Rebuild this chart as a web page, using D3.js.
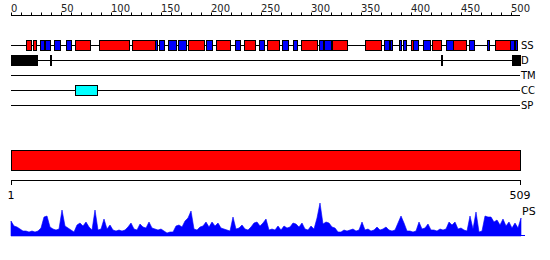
<!DOCTYPE html>
<html>
<head>
<meta charset="utf-8">
<script src="https://cdn.jsdelivr.net/npm/d3@7"></script>
<style>
  body { margin: 0; background: #fff; }
  svg { display: block; font-family: "DejaVu Sans", sans-serif; }
</style>
</head>
<body>
<div id="chart"></div>
<script>
// protein length and ruler
let seq_length = 509
let ruler_ticks = d3.range(0, 501, 10)
let ruler_labels = [0, 50, 100, 150, 200, 250, 300, 350, 400, 450, 500]

// feature tracks (residue ranges)
let track_names = ['SS', 'D', 'TM', 'CC', 'SP']
let helix = [[15, 20], [22, 25], [64, 79], [88, 118], [121, 144], [177, 193], [205, 219],
  [233, 244], [256, 268], [290, 306], [321, 336], [354, 370], [400, 402], [421, 430],
  [442, 455], [484, 499]]
let strand = [[29, 33], [34, 39], [43, 49], [55, 60], [144, 146], [148, 153], [157, 165],
  [167, 175], [195, 201], [224, 229], [248, 253], [271, 277], [282, 286], [308, 312],
  [313, 320], [373, 378], [379, 381], [388, 390], [392, 395], [402, 407], [412, 419],
  [435, 442], [458, 463], [476, 478], [499, 503], [504, 506]]
let disorder = [[0, 26], [39, 40], [430, 431], [501, 509]]
let transmembrane = []
let coiled_coil = [[64, 86]]
let signal_peptide = []

// PS profile, one score every 3 residues
let ps_step = 3
let ps_scores = [15, 10, 9, 7, 5, 5, 4, 5, 4, 5, 8, 19, 20, 9, 7, 6, 7, 26, 10, 8,
  6, 4, 11, 13, 10, 14, 9, 6, 26, 6, 7, 17, 7, 11, 6, 5, 6, 5, 6, 9,
  13, 7, 6, 12, 9, 8, 14, 8, 7, 6, 7, 5, 3, 4, 4, 10, 11, 9, 15, 18,
  25, 7, 6, 9, 10, 14, 9, 14, 10, 13, 8, 7, 6, 5, 19, 7, 8, 11, 7, 6,
  9, 13, 14, 10, 13, 17, 6, 7, 6, 10, 6, 10, 8, 9, 13, 12, 9, 13, 7, 6,
  10, 7, 18, 33, 12, 14, 13, 9, 8, 4, 4, 6, 5, 6, 7, 5, 6, 14, 6, 7,
  5, 6, 9, 6, 7, 9, 6, 5, 6, 13, 20, 13, 5, 5, 4, 5, 14, 7, 8, 12,
  6, 6, 5, 7, 6, 7, 14, 11, 14, 7, 8, 6, 5, 20, 7, 24, 4, 5, 20, 19,
  19, 14, 16, 11, 17, 10, 14, 8, 13, 8, 18]

let width = 550
let height = 260

let svg = d3.select('#chart')
  .append('svg')
  .attr('width', width)
  .attr('height', height)

let x = d3.scaleLinear()
  .domain([0, seq_length])
  .range([11, 520])

// top ruler
let ruler = svg.append('g').attr('transform', 'translate(0,15.5)')
ruler.append('line')
  .attr('x1', x(0)).attr('x2', x(seq_length))
  .attr('stroke', 'black')
ruler.selectAll('.tick')
  .data(ruler_ticks)
  .enter()
  .append('line')
  .attr('x1', d => Math.round(x(d)) + 0.5)
  .attr('x2', d => Math.round(x(d)) + 0.5)
  .attr('y1', -3)
  .attr('y2', 0)
  .attr('stroke', 'black')
ruler.selectAll('text')
  .data(ruler_labels)
  .enter()
  .append('text')
  .attr('x', d => x(d))
  .attr('y', -4)
  .style('font-size', '10px')
  .attr('fill', '#222')
  .text(d => d)

// tracks
let track_y = d3.scalePoint()
  .domain(track_names)
  .range([45, 105])

let tracks = svg.append('g').attr('shape-rendering', 'crispEdges')
tracks.selectAll('.track-line')
  .data(track_names)
  .enter()
  .append('line')
  .attr('x1', x(0))
  .attr('x2', d => d === 'SS' ? x(506) : x(seq_length))
  .attr('y1', d => track_y(d) + 0.5)
  .attr('y2', d => track_y(d) + 0.5)
  .attr('stroke', 'black')

svg.selectAll('.track-label')
  .data(track_names)
  .enter()
  .append('text')
  .attr('x', 521)
  .attr('y', d => track_y(d) + 4)
  .style('font-size', '10px')
  .text(d => d)

function draw_boxes(data, track, fill, half) {
  tracks.append('g')
    .selectAll('rect')
    .data(data)
    .enter()
    .append('rect')
    .attr('x', d => Math.round(x(d[0])) + 0.5)
    .attr('width', d => Math.max(1, Math.round(x(d[1]) - x(d[0]))))
    .attr('y', track_y(track) - half + 0.5)
    .attr('height', half * 2)
    .attr('fill', fill)
    .attr('stroke', 'black')
}

draw_boxes(helix, 'SS', '#ff0000', 5)
draw_boxes(strand, 'SS', '#0000ff', 5)
draw_boxes(disorder, 'D', '#000000', 5)
draw_boxes(transmembrane, 'TM', '#ffff00', 5)
draw_boxes(coiled_coil, 'CC', '#00ffff', 5)
draw_boxes(signal_peptide, 'SP', '#00ff00', 5)

// full length domain bar
svg.append('rect')
  .attr('x', x(0) + 0.5)
  .attr('y', 150.5)
  .attr('width', x(seq_length) - x(0))
  .attr('height', 20)
  .attr('fill', '#ff0000')
  .attr('stroke', 'black')

let bottom = svg.append('g').attr('shape-rendering', 'crispEdges')
bottom.append('line')
  .attr('x1', x(0)).attr('x2', x(seq_length))
  .attr('y1', 180.5).attr('y2', 180.5)
  .attr('stroke', 'black')
bottom.selectAll('.end-tick')
  .data([0, seq_length])
  .enter()
  .append('line')
  .attr('x1', d => x(d) + 0.5).attr('x2', d => x(d) + 0.5)
  .attr('y1', 180).attr('y2', 185)
  .attr('stroke', 'black')

svg.selectAll('.end-label')
  .data([1, seq_length])
  .enter()
  .append('text')
  .attr('x', (d, i) => i === 0 ? x(0) : x(seq_length))
  .attr('y', 199)
  .attr('text-anchor', 'middle')
  .style('font-size', '11px')
  .text(d => d)

svg.append('text')
  .attr('x', 522)
  .attr('y', 215)
  .style('font-size', '11px')
  .text('PS')

// PS profile
let y_ps = d3.scaleLinear()
  .domain([0, 36])
  .range([236, 200])

let ps_area = d3.area()
  .x((d, i) => x(i * ps_step))
  .y0(y_ps(0))
  .y1(d => y_ps(d))

svg.append('path')
  .datum(ps_scores)
  .attr('d', ps_area)
  .attr('fill', '#0000ff')
  .attr('stroke', '#0000ff')
  .attr('stroke-width', 0.6)

svg.append('line')
  .attr('x1', x(0)).attr('x2', 525)
  .attr('y1', 235.5).attr('y2', 235.5)
  .attr('stroke', '#0000ff')
</script>
</body>
</html>
